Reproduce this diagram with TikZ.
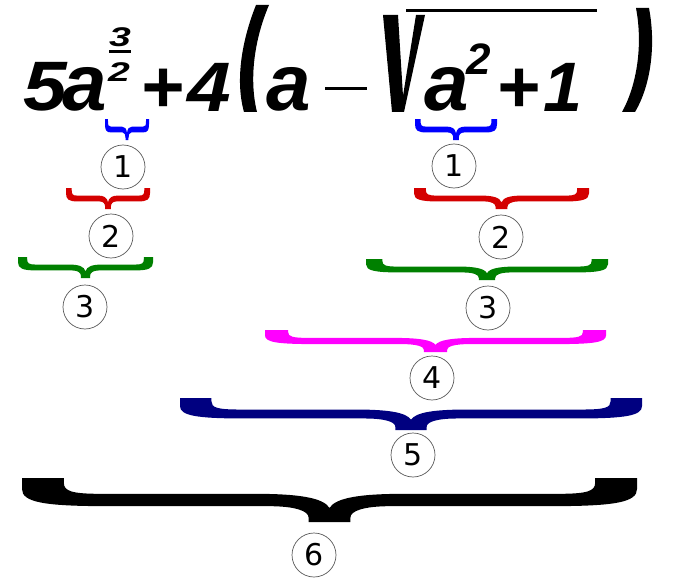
\documentclass[tikz,border=0pt]{standalone}
\usepackage{fontspec}
\newfontfamily\eqfont{Liberation Sans}
\newfontfamily\numfont{DejaVu Sans}
\definecolor{bred}{RGB}{212,0,0}
\definecolor{bgreen}{RGB}{0,128,0}
\definecolor{bblue}{RGB}{0,0,255}
\definecolor{bmag}{RGB}{255,0,255}
\definecolor{bnavy}{RGB}{0,0,128}
\newcommand{\bracepath}{(0,0) -- (0,0.25)
 .. controls (0,0.55) and (0.035,0.64) .. (0.14,0.64)
 -- (0.40,0.64)
 .. controls (0.445,0.64) and (0.466,0.75) .. (0.466,0.9) -- (0.466,1) -- (0.534,1) -- (0.534,0.9)
 .. controls (0.534,0.75) and (0.555,0.64) .. (0.60,0.64)
 -- (0.86,0.64)
 .. controls (0.965,0.64) and (1,0.55) .. (1,0.25)
 -- (1,0) -- (0.932,0) -- (0.932,0.1)
 .. controls (0.932,0.3) and (0.92,0.36) .. (0.87,0.36)
 -- (0.62,0.36)
 .. controls (0.55,0.36) and (0.51,0.45) .. (0.5,0.68)
 .. controls (0.49,0.45) and (0.45,0.36) .. (0.38,0.36)
 -- (0.13,0.36)
 .. controls (0.08,0.36) and (0.068,0.3) .. (0.068,0.1)
 -- (0.068,0) -- cycle}
% #1 left x, #2 top y, #3 width, #4 depth, #5 colour
\newcommand{\ubrace}[5]{%
 \begin{scope}[shift={(#1,#2)}, xscale=#3, yscale=#4]
 \fill[#5] \bracepath;
 \end{scope}}
\newcommand{\wide}[1]{\scalebox{1.45}[1]{#1}}
\newcommand{\wider}[1]{\scalebox{1.12}[1]{#1}}
\begin{document}
\begin{tikzpicture}[x=1pt,y=-1pt,
  glyph/.style={inner sep=0pt, outer sep=0pt, anchor=center},
  big/.style={glyph, font=\eqfont\bfseries\itshape\fontsize{70}{70}\selectfont},
  lett/.style={glyph, font=\eqfont\bfseries\itshape\fontsize{80}{80}\selectfont},
  sup/.style={glyph, font=\eqfont\bfseries\itshape\fontsize{27}{27}\selectfont},
  supb/.style={glyph, font=\eqfont\bfseries\itshape\fontsize{44}{44}\selectfont},
  plus/.style={glyph, font=\eqfont\bfseries\itshape\fontsize{74}{74}\selectfont},
  num/.style={circle, draw=black!65, line width=0.7pt, minimum size=44pt, inner sep=0pt,
    font=\numfont\fontsize{30}{30}\selectfont}]
\useasboundingbox (0,0) rectangle (694,578);
% formula
\node[big] (five) at (45,87) {\wider{5}};
\node[lett] (a1) at (85,89.5) {a};
\node[sup] (s3) at (120,37) {\wide{3}};
\fill (109,50.5) rectangle (131,53.5);
\node[sup] (s2) at (119,72.5) {\wide{2}};
\node[plus] (p1) at (162,91) {+};
\node[big] (four) at (209,87) {\wider{4}};
\fill (256,5) .. controls (242,40) and (235,80) .. (244,112) -- (257,112)
  .. controls (249,80) and (254,40) .. (269,5) -- cycle;
\node[lett] (a2) at (289,89.5) {a};
\fill (325,87.5) rectangle (367,90.5);
\fill (383,15) -- (398,15) -- (403,96) -- (416,15) -- (425,15) -- (404,112) -- (392,112) -- cycle;
\fill (406,9.5) rectangle (597,12.5);
\node[lett] (a3) at (447,89.5) {a};
\node[supb] (s2b) at (479,59.5) {2};
\node[plus] (p2) at (518,91) {+};
\node[big] (one) at (563,87) {1};
\fill (636,8) .. controls (643,45) and (637,85) .. (622,112) -- (635,112)
  .. controls (651,85) and (656,45) .. (649,8) -- cycle;
% braces
\ubrace{105}{119}{44}{21}{bblue}
\ubrace{415}{119}{82}{21}{bblue}
\ubrace{66}{188}{84}{21}{bred}
\ubrace{414}{188}{175}{21}{bred}
\ubrace{18}{257}{135}{21}{bgreen}
\ubrace{366}{259}{242}{21}{bgreen}
\ubrace{265}{330}{341}{22}{bmag}
\ubrace{180}{398}{462}{32}{bnavy}
\ubrace{22}{478}{615}{44}{black}
% circled numbers
\node[num] (c1a) at (123,167) {1};
\node[num] (c1b) at (454,166) {1};
\node[num] (c2a) at (111,236) {2};
\node[num] (c2b) at (501,237) {2};
\node[num] (c3a) at (85,307) {3};
\node[num] (c3b) at (488,308) {3};
\node[num] (c4) at (432,378) {4};
\node[num] (c5) at (413,455) {5};
\node[num] (c6) at (314,555) {6};
\end{tikzpicture}
\end{document}
